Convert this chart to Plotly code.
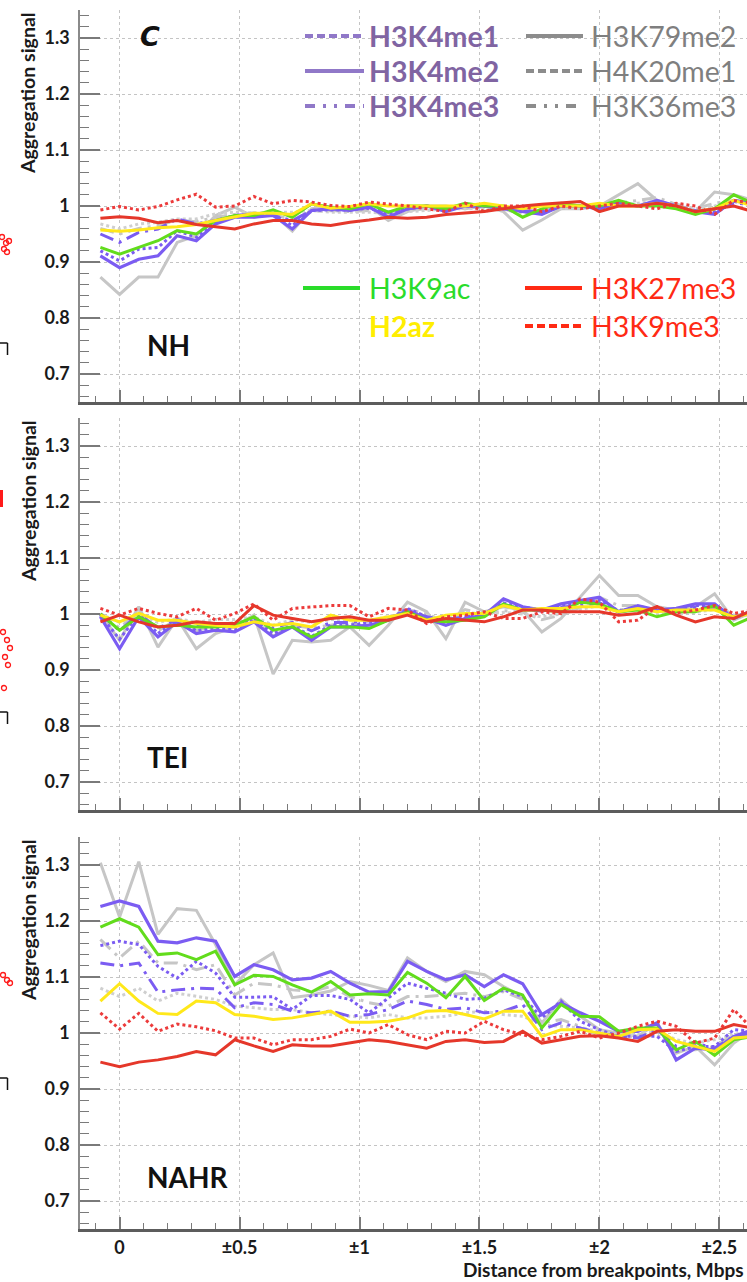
import plotly.graph_objects as go

# ---------------- data ----------------
x_mbps = [-0.08, 0.0, 0.08, 0.16, 0.24, 0.32, 0.40, 0.48, 0.56, 0.64, 0.72, 0.80,
          0.88, 0.96, 1.04, 1.12, 1.20, 1.28, 1.36, 1.44, 1.52, 1.60, 1.68, 1.76,
          1.84, 1.92, 2.00, 2.08, 2.16, 2.24, 2.32, 2.40, 2.48, 2.56, 2.64]

x_tick_vals = [0, 0.5, 1, 1.5, 2, 2.5]
x_tick_text = ["0", "±0.5", "±1", "±1.5", "±2", "±2.5"]
y_tick_vals = [0.7, 0.8, 0.9, 1.0, 1.1, 1.2, 1.3]
y_tick_text = ["0.7", "0.8", "0.9", "1", "1.1", "1.2", "1.3"]

panel_names = ["NH", "TEI", "NAHR"]

# ---- NH ----
nh_H3K79me2 = [0.873, 0.842, 0.873, 0.873, 0.935, 0.947, 0.983, 0.998, 0.980, 0.986, 0.955, 0.995,
               0.998, 0.995, 1.000, 0.974, 0.990, 1.000, 1.000, 0.995, 1.000, 0.990, 0.957, 0.975,
               0.995, 0.995, 1.000, 1.020, 1.040, 1.010, 1.000, 0.990, 1.025, 1.020, 1.010]
nh_H4K20me1 = [0.960, 0.950, 0.960, 0.965, 0.975, 0.972, 0.980, 0.985, 0.988, 0.985, 0.975, 0.990,
               0.992, 0.990, 0.992, 0.985, 0.992, 0.995, 0.995, 0.998, 0.998, 0.995, 0.985, 0.988,
               0.998, 0.998, 1.000, 1.005, 1.010, 1.015, 1.003, 0.995, 1.005, 1.010, 1.005]
nh_H3K36me3 = [0.968, 0.959, 0.968, 0.971, 0.977, 0.977, 0.986, 0.989, 0.987, 0.989, 0.989, 0.992,
               0.989, 0.989, 0.989, 0.986, 0.990, 0.992, 0.995, 0.995, 0.995, 0.995, 0.990, 0.990,
               0.995, 0.998, 0.998, 1.000, 1.005, 1.008, 1.000, 0.995, 1.000, 1.008, 1.005]
nh_H3K4me1 = [0.920, 0.902, 0.923, 0.926, 0.956, 0.944, 0.971, 0.980, 0.983, 0.986, 0.965, 0.992,
              0.993, 0.993, 0.996, 0.986, 0.995, 1.000, 0.992, 1.000, 1.000, 0.995, 0.990, 0.988,
              1.000, 1.000, 0.995, 1.005, 1.000, 1.008, 1.000, 0.990, 0.988, 1.008, 1.003]
nh_H3K4me3 = [0.950, 0.935, 0.953, 0.959, 0.977, 0.968, 0.974, 0.983, 0.986, 0.983, 0.974, 0.992,
              0.995, 0.993, 0.998, 0.989, 0.995, 1.000, 0.995, 1.000, 1.000, 0.997, 0.992, 0.990,
              1.000, 1.000, 0.997, 1.005, 1.000, 1.005, 1.000, 0.992, 0.990, 1.005, 1.003]
nh_H3K4me2 = [0.911, 0.890, 0.905, 0.911, 0.947, 0.938, 0.968, 0.980, 0.980, 0.983, 0.959, 0.992,
              0.995, 0.992, 0.998, 0.980, 0.995, 1.000, 0.990, 1.000, 1.000, 0.995, 0.990, 0.985,
              1.000, 1.000, 0.995, 1.005, 1.000, 1.010, 1.000, 0.990, 0.985, 1.010, 1.005]
nh_H3K9ac = [0.926, 0.914, 0.926, 0.938, 0.956, 0.950, 0.974, 0.983, 0.983, 0.993, 0.980, 1.004,
             0.998, 0.995, 1.004, 0.989, 1.000, 1.000, 0.995, 1.005, 1.000, 1.000, 0.980, 0.995,
             1.005, 1.000, 1.000, 1.010, 1.000, 1.000, 0.995, 0.985, 0.995, 1.020, 1.005]
nh_H2az = [0.957, 0.955, 0.957, 0.961, 0.963, 0.967, 0.974, 0.980, 0.987, 0.987, 0.985, 1.004,
           0.996, 0.999, 1.004, 1.000, 1.000, 1.000, 1.000, 1.000, 1.005, 1.000, 0.995, 1.000,
           1.000, 1.000, 1.005, 1.000, 1.000, 1.005, 1.000, 0.990, 0.995, 1.010, 1.000]
nh_H3K9me3 = [0.993, 0.999, 0.993, 0.999, 1.011, 1.021, 0.998, 1.000, 1.017, 1.004, 1.010, 1.007,
              1.001, 0.999, 1.007, 1.004, 1.000, 0.995, 0.990, 1.005, 0.990, 1.000, 1.000, 0.990,
              1.000, 0.995, 1.000, 1.005, 1.000, 0.995, 1.005, 1.000, 0.985, 1.010, 1.005]
nh_H3K27me3 = [0.978, 0.981, 0.978, 0.970, 0.974, 0.967, 0.963, 0.959, 0.968, 0.974, 0.974, 0.968,
               0.965, 0.971, 0.975, 0.980, 0.978, 0.980, 0.985, 0.988, 0.990, 0.995, 1.000, 1.003,
               1.005, 1.008, 0.990, 1.000, 1.000, 1.005, 1.000, 0.990, 0.995, 1.000, 0.990]

# ---- TEI ----
tei_H3K79me2 = [1.000, 0.953, 1.013, 0.941, 0.992, 0.938, 0.965, 0.977, 0.998, 0.893, 0.953, 0.950,
                0.953, 0.977, 0.944, 0.980, 1.021, 1.004, 0.956, 1.021, 1.004, 1.013, 1.007, 0.968,
                0.992, 1.030, 1.069, 1.033, 1.033, 1.013, 1.007, 1.013, 1.036, 0.989, 1.004]
tei_H4K20me1 = [1.000, 0.975, 1.005, 0.970, 0.990, 0.970, 0.980, 0.985, 0.995, 0.960, 0.980, 0.975,
                0.980, 0.985, 0.975, 0.990, 1.008, 1.000, 0.985, 1.008, 1.000, 1.006, 1.003, 0.990,
                0.998, 1.012, 1.030, 1.015, 1.015, 1.006, 1.003, 1.006, 1.015, 0.995, 1.000]
tei_H3K36me3 = [1.000, 0.985, 1.000, 0.985, 0.992, 0.985, 0.990, 0.990, 0.995, 0.980, 0.990, 0.985,
                0.990, 0.990, 0.988, 0.995, 1.003, 0.998, 0.990, 1.003, 1.000, 1.003, 1.000, 0.995,
                1.000, 1.008, 1.015, 1.008, 1.008, 1.003, 1.000, 1.003, 1.008, 0.998, 1.000]
tei_H3K4me1 = [0.998, 0.955, 1.000, 0.965, 0.990, 0.970, 0.975, 0.972, 0.990, 0.965, 0.980, 0.960,
               0.980, 0.980, 0.985, 0.990, 1.010, 0.995, 0.985, 0.995, 1.000, 1.020, 1.012, 1.008,
               1.015, 1.020, 1.025, 1.005, 1.012, 1.008, 1.008, 1.015, 1.015, 0.995, 1.005]
tei_H3K4me3 = [1.000, 0.970, 1.000, 0.975, 0.990, 0.980, 0.980, 0.980, 0.992, 0.975, 0.985, 0.970,
               0.985, 0.985, 0.988, 0.992, 1.005, 0.995, 0.990, 0.995, 1.000, 1.015, 1.010, 1.005,
               1.012, 1.015, 1.020, 1.003, 1.010, 1.005, 1.005, 1.012, 1.012, 0.995, 1.003]
tei_H3K4me2 = [0.995, 0.938, 0.995, 0.959, 0.986, 0.965, 0.971, 0.968, 0.986, 0.959, 0.977, 0.953,
               0.977, 0.977, 0.980, 0.989, 1.007, 0.992, 0.980, 0.992, 0.998, 1.027, 1.013, 1.007,
               1.018, 1.024, 1.030, 1.004, 1.015, 1.007, 1.010, 1.018, 1.018, 0.992, 1.007]
tei_H3K9ac = [1.000, 0.971, 0.995, 0.977, 0.980, 0.977, 0.977, 0.980, 0.995, 0.971, 0.977, 0.959,
              0.977, 0.977, 0.974, 0.989, 1.004, 0.989, 0.986, 0.989, 0.995, 1.018, 1.007, 1.007,
              1.004, 1.021, 1.018, 1.004, 1.007, 0.995, 1.004, 1.004, 1.015, 0.980, 0.995]
tei_H2az = [0.998, 0.986, 1.001, 0.989, 0.989, 0.983, 0.980, 0.977, 0.986, 0.980, 0.983, 0.977,
            0.998, 0.989, 0.989, 0.995, 1.001, 0.989, 0.998, 1.001, 1.001, 1.015, 1.007, 1.010,
            1.010, 1.013, 1.013, 1.004, 1.010, 1.004, 1.007, 1.007, 1.007, 0.995, 1.001]
tei_H3K9me3 = [1.010, 0.998, 1.010, 1.001, 0.995, 1.010, 0.989, 1.001, 1.018, 0.989, 1.010, 1.013,
               1.015, 1.015, 0.995, 1.010, 1.007, 0.983, 0.995, 0.998, 1.004, 0.992, 0.992, 1.004,
               1.001, 1.027, 1.021, 0.986, 0.989, 1.013, 1.001, 1.007, 1.015, 1.001, 1.007]
tei_H3K27me3 = [0.986, 0.998, 0.986, 0.977, 0.980, 0.986, 0.983, 0.983, 1.015, 0.998, 0.992, 0.986,
                0.992, 0.995, 0.989, 0.989, 0.998, 0.986, 0.992, 0.989, 0.986, 0.995, 1.007, 1.007,
                1.004, 1.004, 1.004, 0.998, 1.001, 1.013, 0.998, 0.986, 0.995, 0.992, 1.007]

# ---- NAHR ----
nahr_H3K79me2 = [1.304, 1.207, 1.306, 1.176, 1.222, 1.219, 1.158, 1.086, 1.122, 1.143, 1.063, 1.068,
                 1.075, 1.092, 1.085, 1.076, 1.134, 1.110, 1.092, 1.110, 1.104, 1.083, 1.065, 1.018,
                 1.060, 1.030, 1.006, 1.000, 0.994, 1.018, 0.964, 0.976, 0.943, 0.982, 1.006]
nahr_H4K20me1 = [1.167, 1.134, 1.164, 1.125, 1.125, 1.113, 1.122, 1.068, 1.089, 1.086, 1.077, 1.074,
                 1.083, 1.065, 1.054, 1.048, 1.065, 1.065, 1.068, 1.071, 1.065, 1.074, 1.060, 1.018,
                 1.024, 1.012, 0.994, 1.000, 0.991, 0.997, 0.970, 0.970, 0.976, 0.997, 1.003]
nahr_H3K36me3 = [1.080, 1.065, 1.080, 1.057, 1.071, 1.065, 1.060, 1.048, 1.045, 1.042, 1.042, 1.036,
                 1.033, 1.030, 1.027, 1.033, 1.027, 1.027, 1.030, 1.036, 1.039, 1.033, 1.030, 1.015,
                 1.012, 1.009, 1.003, 0.997, 0.997, 1.003, 0.988, 0.982, 0.988, 0.997, 1.000]
nahr_H3K4me1 = [1.156, 1.164, 1.158, 1.119, 1.098, 1.128, 1.107, 1.064, 1.064, 1.065, 1.042, 1.067,
                1.067, 1.060, 1.036, 1.062, 1.089, 1.080, 1.071, 1.060, 1.062, 1.077, 1.065, 1.027,
                1.057, 1.021, 1.006, 0.994, 0.994, 0.994, 0.967, 0.976, 0.976, 1.006, 1.003]
nahr_H3K4me3 = [1.125, 1.120, 1.125, 1.073, 1.077, 1.080, 1.079, 1.045, 1.054, 1.051, 1.039, 1.036,
                1.039, 1.030, 1.033, 1.042, 1.057, 1.051, 1.042, 1.045, 1.036, 1.039, 1.051, 1.006,
                1.018, 1.009, 1.000, 0.994, 0.991, 1.006, 0.976, 0.982, 0.973, 0.994, 1.000]
nahr_H3K4me2 = [1.226, 1.236, 1.226, 1.164, 1.161, 1.170, 1.164, 1.101, 1.122, 1.113, 1.095, 1.098,
                1.110, 1.089, 1.073, 1.074, 1.128, 1.110, 1.095, 1.104, 1.083, 1.104, 1.088, 1.033,
                1.054, 1.036, 1.021, 1.003, 1.003, 1.018, 0.952, 0.973, 0.970, 0.994, 1.006]
nahr_H3K9ac = [1.189, 1.204, 1.189, 1.140, 1.143, 1.131, 1.146, 1.086, 1.103, 1.101, 1.086, 1.073,
               1.092, 1.068, 1.070, 1.068, 1.108, 1.089, 1.063, 1.101, 1.058, 1.080, 1.068, 1.009,
               1.051, 1.030, 1.029, 1.003, 1.009, 1.009, 0.970, 0.985, 0.960, 0.988, 0.994]
nahr_H2az = [1.057, 1.088, 1.057, 1.035, 1.033, 1.057, 1.054, 1.033, 1.030, 1.024, 1.027, 1.033,
             1.039, 1.019, 1.019, 1.021, 1.027, 1.039, 1.040, 1.033, 1.025, 1.039, 1.039, 0.994,
             1.006, 1.006, 1.000, 0.994, 1.006, 1.007, 0.985, 0.976, 0.967, 0.991, 0.994]
nahr_H3K9me3 = [1.036, 1.007, 1.035, 1.003, 1.016, 1.011, 1.004, 0.991, 0.991, 0.979, 0.988, 0.988,
                0.994, 1.007, 1.000, 1.015, 0.997, 0.988, 1.003, 1.000, 1.021, 1.006, 0.997, 0.988,
                0.994, 1.003, 0.991, 1.000, 1.012, 1.021, 1.012, 0.982, 0.991, 1.042, 1.006]
nahr_H3K27me3 = [0.948, 0.940, 0.948, 0.952, 0.958, 0.967, 0.961, 0.988, 0.977, 0.967, 0.979, 0.977,
                 0.977, 0.982, 0.988, 0.985, 0.979, 0.973, 0.985, 0.988, 0.983, 0.985, 1.003, 0.982,
                 0.988, 0.994, 0.995, 0.991, 0.985, 1.003, 1.006, 1.003, 1.003, 1.015, 1.009]

panels = [
    {"H3K79me2": nh_H3K79me2, "H4K20me1": nh_H4K20me1, "H3K36me3": nh_H3K36me3,
     "H3K4me1": nh_H3K4me1, "H3K4me3": nh_H3K4me3, "H3K4me2": nh_H3K4me2,
     "H3K9ac": nh_H3K9ac, "H2az": nh_H2az, "H3K9me3": nh_H3K9me3, "H3K27me3": nh_H3K27me3},
    {"H3K79me2": tei_H3K79me2, "H4K20me1": tei_H4K20me1, "H3K36me3": tei_H3K36me3,
     "H3K4me1": tei_H3K4me1, "H3K4me3": tei_H3K4me3, "H3K4me2": tei_H3K4me2,
     "H3K9ac": tei_H3K9ac, "H2az": tei_H2az, "H3K9me3": tei_H3K9me3, "H3K27me3": tei_H3K27me3},
    {"H3K79me2": nahr_H3K79me2, "H4K20me1": nahr_H4K20me1, "H3K36me3": nahr_H3K36me3,
     "H3K4me1": nahr_H3K4me1, "H3K4me3": nahr_H3K4me3, "H3K4me2": nahr_H3K4me2,
     "H3K9ac": nahr_H3K9ac, "H2az": nahr_H2az, "H3K9me3": nahr_H3K9me3, "H3K27me3": nahr_H3K27me3},
]

# ---------------- styles ----------------
PURPLE = "#7B5CF2"
GRAY = "#C6C6C6"
styles = {
    "H3K79me2": dict(color=GRAY, dash="solid", width=3),
    "H4K20me1": dict(color=GRAY, dash="14px,6px,3px,6px", width=3),
    "H3K36me3": dict(color="#CFCFCF", dash="dot", width=3),
    "H3K4me1": dict(color=PURPLE, dash="dot", width=3),
    "H3K4me3": dict(color=PURPLE, dash="14px,6px,3px,6px", width=3),
    "H3K4me2": dict(color=PURPLE, dash="solid", width=3.2),
    "H3K9ac": dict(color="#62DC1C", dash="solid", width=3),
    "H2az": dict(color="#FFE81A", dash="solid", width=3),
    "H3K9me3": dict(color="#EC3B3B", dash="dot", width=3),
    "H3K27me3": dict(color="#E5372A", dash="solid", width=3),
}

W, H = 747, 1282
AX_LEFT = 80
panel_px = [(10, 402), (418, 810), (837, 1229)]
FONT = "Lato, 'Open Sans', sans-serif"


def px(xp):
    return xp / W


def py(yp):
    return 1 - yp / H


fig = go.Figure()
for i, series in enumerate(panels):
    sfx = "" if i == 0 else str(i + 1)
    for name, vals in series.items():
        fig.add_trace(go.Scatter(
            x=x_mbps, y=vals, mode="lines", name=name, showlegend=False,
            line=styles[name], xaxis="x" + sfx, yaxis="y" + sfx, hoverinfo="skip"))

layout = dict(
    width=W, height=H, margin=dict(l=0, r=0, t=0, b=0),
    paper_bgcolor="white", plot_bgcolor="white", showlegend=False,
    font=dict(family=FONT, color="#1a1a1a"),
)
for i, (top, bot) in enumerate(panel_px):
    sfx = "" if i == 0 else str(i + 1)
    layout["xaxis" + sfx] = dict(
        domain=[px(AX_LEFT), 1], range=[-0.165, 2.615], anchor="y" + sfx,
        tickmode="array", tickvals=x_tick_vals, ticktext=x_tick_text,
        showticklabels=(i == 2), ticks="inside", ticklen=12, tickwidth=1.5, tickcolor="#7a7a7a",
        minor=dict(tickmode="linear", tick0=0, dtick=0.1, ticks="inside", ticklen=6,
                   tickwidth=1.2, tickcolor="#7a7a7a", showgrid=False),
        showline=True, linecolor="#5c5c5c", linewidth=2.5,
        showgrid=True, gridcolor="#c4c4c4", griddash="dot", gridwidth=1,
        zeroline=False, ticklabelstandoff=1,
        tickfont=dict(size=18, weight="bold", color="#1a1a1a"),
    )
    layout["yaxis" + sfx] = dict(
        domain=[py(bot), py(top)], range=[0.65, 1.35], anchor="x" + sfx,
        tickmode="array", tickvals=y_tick_vals, ticktext=y_tick_text,
        ticks="inside", ticklen=20, tickwidth=1.5, tickcolor="#7a7a7a",
        minor=dict(tickmode="linear", tick0=0.7, dtick=0.02, ticks="inside", ticklen=9,
                   tickwidth=1.2, tickcolor="#7a7a7a", showgrid=False),
        showline=True, linecolor="#8a8a8a", linewidth=1.5,
        showgrid=True, gridcolor="#c4c4c4", griddash="dot", gridwidth=1,
        zeroline=False, ticklabelstandoff=5,
        tickfont=dict(size=18, weight="bold", color="#1a1a1a"),
    )
fig.update_layout(**layout)

annotations = []
shapes = []
# y-axis titles and panel labels
label_y = [345, 757, 1177]
for i, (top, bot) in enumerate(panel_px):
    annotations.append(dict(
        x=px(28), y=py(top + 83), xref="paper", yref="paper", text="Aggregation signal",
        textangle=-90, showarrow=False, xanchor="center", yanchor="middle",
        font=dict(size=19.5, weight="bold", color="#1a1a1a")))
    annotations.append(dict(
        x=px(145), y=py(label_y[i]), xref="paper", yref="paper", text=panel_names[i],
        showarrow=False, xanchor="left", yanchor="middle",
        font=dict(size=28, weight="bold", color="#111111")))

# x-axis title
annotations.append(dict(
    x=px(745), y=0, xref="paper", yref="paper", text="Distance from breakpoints, Mbps",
    showarrow=False, xanchor="right", yanchor="bottom", borderpad=0,
    font=dict(size=19, weight="bold", color="#1a1a1a")))

# panel letter
annotations.append(dict(
    x=px(150), y=py(36), xref="paper", yref="paper", text="<i>C</i>",
    showarrow=False, xanchor="center", yanchor="middle",
    font=dict(size=27, weight="bold", color="#111111", family="'DejaVu Sans', sans-serif")))

# legend (drawn as text + line samples)
legend_items = [
    # name, text color, bold, line color, dash, line x0, x1, text x, y
    ("H3K4me1", "#8064A2", True, "#9078C8", "8px,4px", 305, 364, 367, 36),
    ("H3K4me2", "#8064A2", True, "#9078C8", "solid", 305, 364, 367, 71),
    ("H3K4me3", "#8064A2", True, "#9078C8", "10px,8px,3px,8px,3px,8px", 305, 364, 367, 106),
    ("H3K79me2", "#7F7F7F", False, "#8C8C8C", "solid", 526, 583, 589, 36),
    ("H4K20me1", "#7F7F7F", False, "#8C8C8C", "8px,4px", 526, 583, 589, 71),
    ("H3K36me3", "#7F7F7F", False, "#8C8C8C", "10px,8px,3px,8px,3px,8px", 526, 583, 589, 106),
    ("H3K9ac", "#2ADC2A", False, "#2ADC2A", "solid", 303, 360, 367, 288),
    ("H2az", "#FFEE00", True, None, None, 303, 360, 367, 326),
    ("H3K27me3", "#FF2A14", False, "#FF2A14", "solid", 525, 582, 589, 288),
    ("H3K9me3", "#FF2A14", False, "#FF2A14", "8px,4px", 525, 582, 589, 326),
]
for name, tcol, bold, lcol, dash, x0, x1, tx, ty in legend_items:
    if lcol is not None:
        shapes.append(dict(type="line", xref="paper", yref="paper",
                           x0=px(x0), x1=px(x1), y0=py(ty), y1=py(ty),
                           line=dict(color=lcol, width=4, dash=dash)))
    annotations.append(dict(
        x=px(tx), y=py(ty), xref="paper", yref="paper", text=name, showarrow=False,
        xanchor="left", yanchor="middle",
        font=dict(size=28.5, weight="bold" if bold else "normal", color=tcol, family=FONT)))

# fragments of the neighbouring panel visible at the left edge
circles = [(2, 237), (6, 243), (9, 241), (4, 249), (7, 252),
           (3, 632), (7, 640), (10, 648), (5, 657), (8, 665), (4, 688),
           (3, 975), (7, 980), (10, 983)]
for cx, cy in circles:
    shapes.append(dict(type="circle", xref="paper", yref="paper",
                       x0=px(cx - 2.5), x1=px(cx + 2.5), y0=py(cy - 2.5), y1=py(cy + 2.5),
                       line=dict(color="#FF1A1A", width=1.3)))
for by in [343, 712, 1078]:
    shapes.append(dict(type="line", xref="paper", yref="paper",
                       x0=0, x1=px(7.5), y0=py(by), y1=py(by), line=dict(color="#111", width=1.5)))
    shapes.append(dict(type="line", xref="paper", yref="paper",
                       x0=px(7.5), x1=px(7.5), y0=py(by), y1=py(by + 12), line=dict(color="#111", width=1.5)))
shapes.append(dict(type="rect", xref="paper", yref="paper", x0=0, x1=px(3),
                   y0=py(490), y1=py(507), fillcolor="#FF1A1A", line=dict(width=0)))

fig.update_layout(annotations=annotations, shapes=shapes)
fig.write_html("out.html")
